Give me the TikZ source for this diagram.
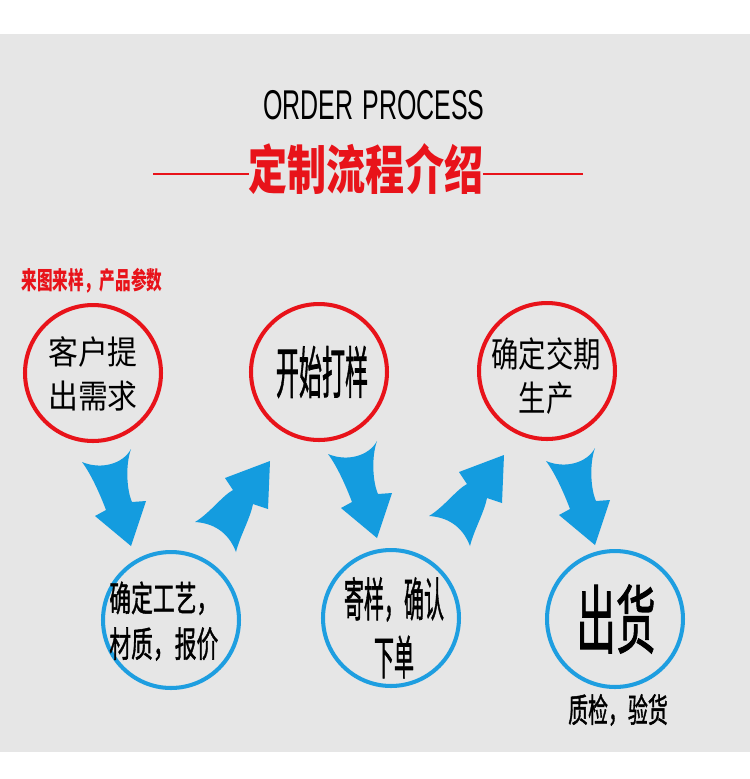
\documentclass[tikz,border=0pt]{standalone}
\usepackage{fontspec}
\setmainfont{Liberation Sans}
\newfontfamily\cjk{Noto Sans CJK SC}
\newfontfamily\cjkmid{Noto Sans CJK SC}[FakeBold=1.5]
\usetikzlibrary{calc}
\definecolor{bggray}{HTML}{E6E6E6}
\definecolor{ringred}{HTML}{E8131A}
\definecolor{ringblue}{HTML}{1E9EE0}
\definecolor{arrowblue}{HTML}{149CDF}
\newcommand\squeeze[2]{\scalebox{#1}[1]{#2}}
\begin{document}
\begin{tikzpicture}[x=0.02cm,y=-0.02cm,
  redring/.style={circle,draw=ringred,line width=2.3pt,minimum size=2.72cm,inner sep=0pt},
  bluering/.style={circle,draw=ringblue,line width=2.3pt,minimum size=2.72cm,inner sep=0pt},
  txt/.style={inner sep=0pt},
  downarrow/.pic={\fill[arrowblue] (0,0) -- (-36,-30) -- (-25,-36)
      .. controls (-31,-52) and (-40,-72) .. (-49,-84)
      .. controls (-30,-76) and (-8,-82) .. (0,-97)
      .. controls (-6,-80) and (-4,-55) .. (1,-44) -- (15,-45) -- cycle;},
  uparrow/.pic={\fill[arrowblue] (0,0) -- (-2,48) -- (-17,43)
      .. controls (-20,58) and (-30,75) .. (-34,91)
      .. controls (-42,70) and (-58,62) .. (-75,61)
      .. controls (-60,52) and (-48,35) .. (-37,29) -- (-45,17) -- cycle;}]
  % background
  \fill[white] (0,0) rectangle (750,779);
  \fill[bggray] (0,34) rectangle (750,752);
  % heading
  \node[txt,font=\fontsize{23.7}{28}\selectfont] (order) at (374,105) {\squeeze{0.6}{ORDER\hspace{0.35em}PROCESS}};
  \node[txt,text=ringred,font=\cjk\bfseries\fontsize{30}{36}\selectfont] (title) at (366,169) {\squeeze{0.74}{定制流程介绍}};
  \coordinate (ll) at (153,174);
  \coordinate (rr) at (583,174);
  \draw[ringred,line width=1.6pt] (ll) -- (ll -| title.west);
  \draw[ringred,line width=1.6pt] (rr -| title.east) -- (rr);
  % rings
  \node[redring] (c1) at (93,373) {};
  \node[redring] (c2) at (319,372) {};
  \node[redring] (c3) at (547,371) {};
  \node[bluering] (c4) at (171,620) {};
  \node[bluering] (c5) at (391,618) {};
  \node[bluering] (c6) at (615,619) {};
  % texts
  \node[txt,text=ringred,font=\cjk\bfseries\fontsize{13.9}{16}\selectfont] (note) at (92,281) {\squeeze{0.64}{来图来样，产品参数}};
  \node[txt,font=\cjk\fontsize{18.7}{25}\selectfont] (t1) at (93,378) {\squeeze{0.91}{\begin{tabular}{@{}c@{}}客户提\\出需求\end{tabular}}};
  \node[txt,font=\cjkmid\fontsize{32}{38}\selectfont] (t2) at (322,372) {\squeeze{0.41}{开始打样}};
  \node[txt,font=\cjk\fontsize{20}{25}\selectfont] (t3) at (546,381) {\squeeze{0.78}{\begin{tabular}{@{}c@{}}确定交期\\生产\end{tabular}}};
  \node[txt,anchor=west,font=\cjkmid\fontsize{20}{26}\selectfont] (t4) at (109,625) {\squeeze{0.62}{\begin{tabular}{@{}l@{}}确定工艺，\\材质，报价\end{tabular}}};
  \node[txt,font=\cjkmid\fontsize{26.5}{33}\selectfont] (t5) at (394,634) {\squeeze{0.43}{\begin{tabular}{@{}c@{}}寄样，确认\\下单\end{tabular}}};
  \node[txt,font=\cjkmid\fontsize{42.5}{48}\selectfont] (t6) at (616,619) {\squeeze{0.53}{出货}};
  \node[txt,font=\cjkmid\fontsize{18.9}{22}\selectfont] (t7) at (618,710) {\squeeze{0.6}{质检，验货}};
  % arrows
  \pic at (131,546) {downarrow};
  \pic at (270,461) {uparrow};
  \pic at (377,538) {downarrow};
  \pic at (504,455) {uparrow};
  \pic at (595,545) {downarrow};
\end{tikzpicture}
\end{document}
